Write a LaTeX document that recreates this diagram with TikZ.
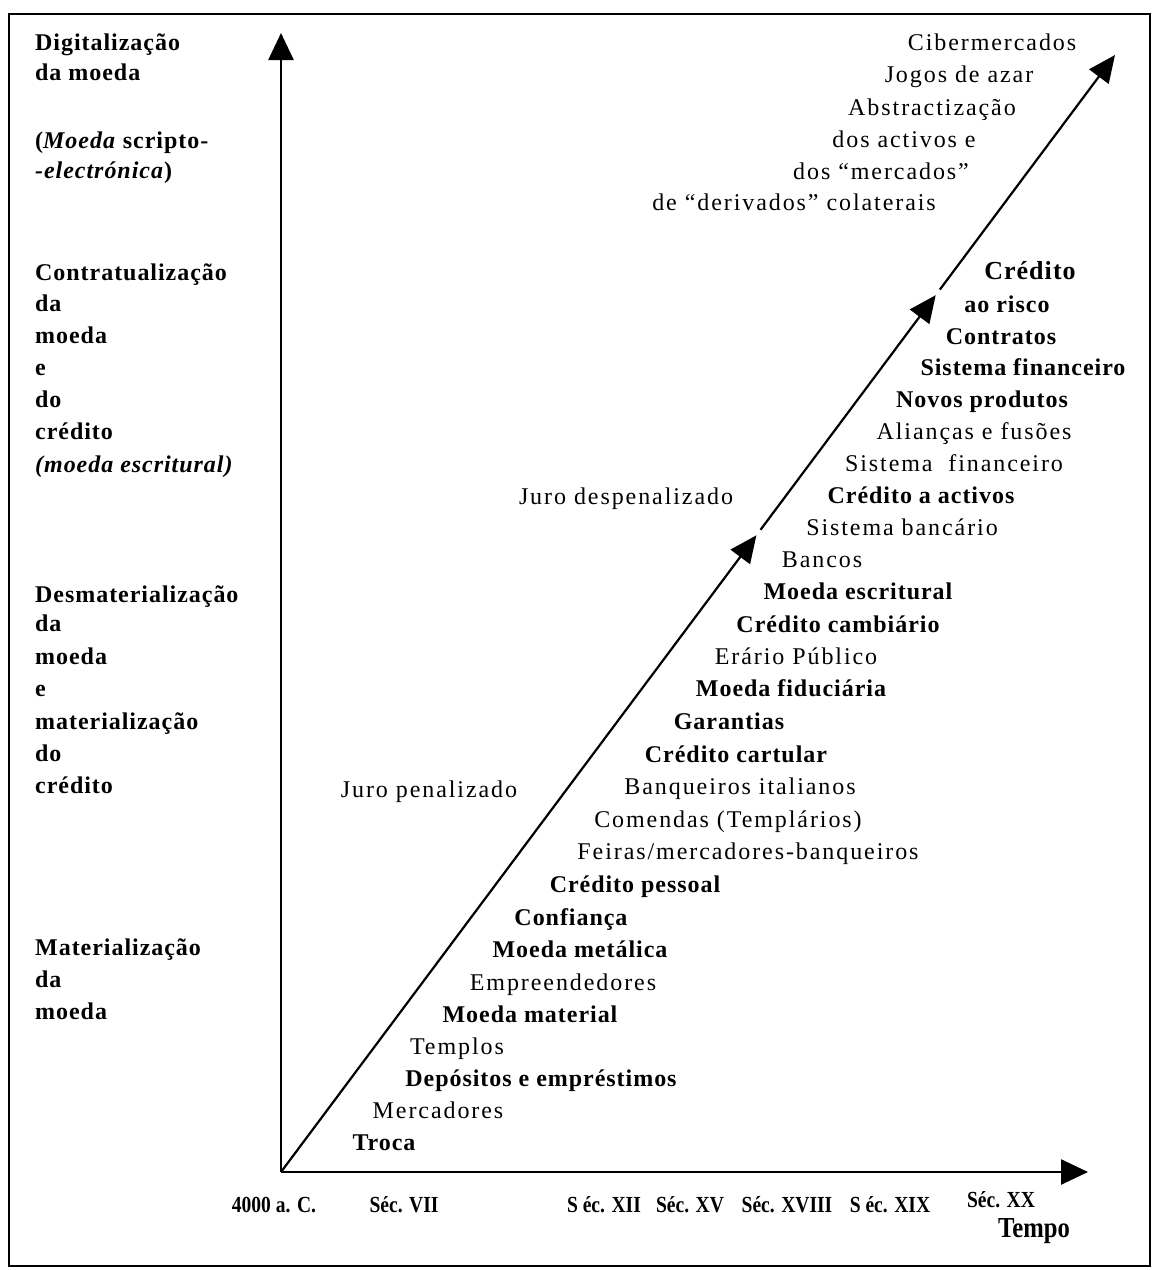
\documentclass[tikz,border=0pt]{standalone}
\usepackage{fontspec}
\setmainfont{Liberation Serif}[
  UprightFeatures={LetterSpace=8},
  BoldFeatures={LetterSpace=4},
  BoldItalicFeatures={LetterSpace=4}]
\newfontfamily\axisfont{Liberation Serif}[FakeStretch=0.85]
\usetikzlibrary{arrows.meta,calc}

\tikzset{
  rt/.style={anchor=base, yshift=-7pt, inner sep=0pt, font=\fontsize{24}{30}\selectfont},
  bt/.style={anchor=base, yshift=-7pt, inner sep=0pt, font=\fontsize{24}{30}\selectfont\bfseries},
  big/.style={anchor=base, yshift=-7pt, inner sep=0pt, font=\fontsize{26}{30}\selectfont\bfseries},
  lab/.style={anchor=base west, yshift=-7pt, inner sep=0pt, font=\fontsize{24}{30}\selectfont\bfseries},
  era/.style={anchor=base, yshift=-7pt, inner sep=0pt, font=\axisfont\bfseries\fontsize{23}{26}\selectfont},
  axislabel/.style={anchor=base, yshift=-7pt, inner sep=0pt, font=\axisfont\bfseries\fontsize{29}{30}\selectfont},
  axis/.style={line width=2.6pt, -{Triangle[length=27pt,width=25pt]}},
  trend/.style={line width=2.2pt, -{Triangle[length=27pt,width=24pt]}},
  frame/.style={line width=2.4pt}
}

\begin{document}
\begin{tikzpicture}[x=1pt, y=-1pt]
\useasboundingbox[fill=white] (0,0) rectangle (1164,1270);
\draw[frame] (9,14) rectangle (1150,1266);

% axes
\coordinate (O) at (281,1172);
\coordinate (Ytop) at (281,33);
\coordinate (Xend) at (1088,1172);
\draw[axis] (O) -- (Ytop);
\draw[axis] (O) -- (Xend);

% rising trend in three stages
\coordinate (E) at (1115,55);
\coordinate (P1) at ($(O)!0.570!(E)$);
\coordinate (Q1) at ($(O)!0.575!(E)$);
\coordinate (P2) at ($(O)!0.785!(E)$);
\coordinate (Q2) at ($(O)!0.790!(E)$);
\draw[trend] (O) -- (P1);
\draw[trend] (Q1) -- (P2);
\draw[trend] (Q2) -- (E);

% stages on the vertical axis
\node[lab] (d1) at (35,43) {Digitalização};
\node[lab] (d2) at (35,73) {da moeda};
\node[lab] (d3) at (35,141) {(\textit{Moeda} scripto-};
\node[lab] (d4) at (35,171) {\textit{-electrónica})};

\node[lab] (c1) at (35,273) {Contratualização};
\node[lab] (c2) at (35,304) {da};
\node[lab] (c3) at (35,336) {moeda};
\node[lab] (c4) at (35,368) {e};
\node[lab] (c5) at (35,400) {do};
\node[lab] (c6) at (35,432) {crédito};
\node[lab] (c7) at (35,465) {\textit{(moeda escritural)}};

\node[lab] (s1) at (35,595) {Desmaterialização};
\node[lab] (s2) at (35,624) {da};
\node[lab] (s3) at (35,657) {moeda};
\node[lab] (s4) at (35,689) {e};
\node[lab] (s5) at (35,722) {materialização};
\node[lab] (s6) at (35,754) {do};
\node[lab] (s7) at (35,786) {crédito};

\node[lab] (m1) at (35,948) {Materialização};
\node[lab] (m2) at (35,980) {da};
\node[lab] (m3) at (35,1012) {moeda};

% milestones along the trend
\node[rt] (cib) at (992,43) {Cibermercados};
\node[rt] (jog) at (959,75) {Jogos de azar};
\node[rt] (abs) at (932,108) {Abstractização};
\node[rt] (act) at (904,140) {dos activos e};
\node[rt] (mer) at (881,172) {dos “mercados”};
\node[rt] (der) at (794,203) {de “derivados” colaterais};

\node[big] (cre) at (1030,272) {Crédito};
\node[bt] (ris) at (1007,305) {ao risco};
\node[bt] (con) at (1001,337) {Contratos};
\node[bt] (sfb) at (1023,368) {Sistema financeiro};
\node[bt] (nov) at (982,400) {Novos produtos};
\node[rt] (ali) at (974,432) {Alianças e fusões};
\node[rt] (sfr) at (954,464) {Sistema\ \ financeiro};
\node[bt] (cra) at (921,496) {Crédito a activos};
\node[rt] (sba) at (902,528) {Sistema bancário};
\node[rt] (ban) at (822,560) {Bancos};
\node[bt] (mes) at (858,592) {Moeda escritural};
\node[bt] (cca) at (838,625) {Crédito cambiário};
\node[rt] (era) at (796,657) {Erário Público};
\node[bt] (mfi) at (791,689) {Moeda fiduciária};
\node[bt] (gar) at (729,722) {Garantias};
\node[bt] (cct) at (736,755) {Crédito cartular};
\node[rt] (bqi) at (740,787) {Banqueiros italianos};
\node[rt] (com) at (728,820) {Comendas (Templários)};
\node[rt] (fei) at (748,852) {Feiras/mercadores-banqueiros};
\node[bt] (cpe) at (635,885) {Crédito pessoal};
\node[bt] (cnf) at (571,918) {Confiança};
\node[bt] (mme) at (580,950) {Moeda metálica};
\node[rt] (emp) at (563,983) {Empreendedores};
\node[bt] (mma) at (530,1015) {Moeda material};
\node[rt] (tem) at (457,1047) {Templos};
\node[bt] (dep) at (541,1079) {Depósitos e empréstimos};
\node[rt] (mcd) at (438,1111) {Mercadores};
\node[bt] (tro) at (384,1143) {Troca};

\node[rt] (jd) at (626,497) {Juro despenalizado};
\node[rt] (jp) at (429,790) {Juro penalizado};

% time axis labels
\node[era] (t0) at (274,1205) {4000 a. C.};
\node[era] (t1) at (404,1205) {Séc. VII};
\node[era] (t2) at (604,1205) {S éc. XII};
\node[era] (t3) at (690,1205) {Séc. XV};
\node[era] (t4) at (787,1205) {Séc. XVIII};
\node[era] (t5) at (890,1205) {S éc. XIX};
\node[era] (t6) at (1001,1200) {Séc. XX};
\node[axislabel] (tempo) at (1034,1230) {Tempo};
\end{tikzpicture}
\end{document}
